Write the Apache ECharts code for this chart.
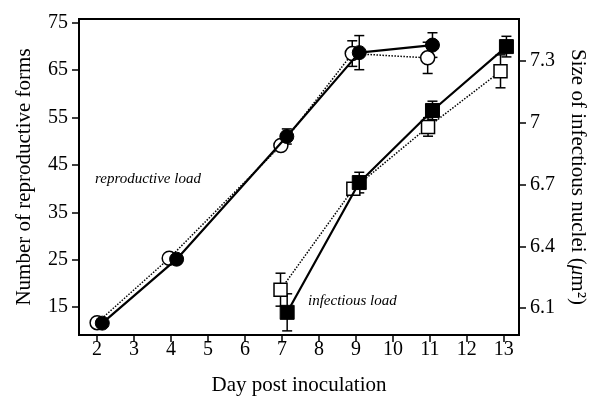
<!DOCTYPE html>
<html><head><meta charset="utf-8">
<script src="https://cdn.jsdelivr.net/npm/echarts@6/dist/echarts.min.js"></script>
<style>html,body{margin:0;padding:0;background:#fff}#c{width:600px;height:412px}</style>
</head><body><div id="c"></div>
<script>
// ---- data ----
var xTicks = [2,3,4,5,6,7,8,9,10,11,12,13];
var leftTicks = [15,25,35,45,55,65,75];
var rightTicks = [6.1,6.4,6.7,7,7.3];

// reproductive load (left axis): open circles (dotted), filled circles (solid)
var openCircDays  = [2.0, 3.95, 6.97, 8.9, 10.94];
var openCircVals  = [11.7, 25.3, 49.1, 68.5, 67.6];
var openCircErr   = [0, 0, 0, 2.7, 3.3];
var fillCircDays  = [2.14, 4.15, 7.13, 9.09, 11.07];
var fillCircVals  = [11.6, 25.1, 51.0, 68.7, 70.3];
var fillCircErr   = [0, 0, 1.6, 3.6, 2.6];

// infectious load (right axis): open squares (dotted), filled squares (solid)
var openSqDays = [6.96, 8.93, 10.95, 12.91];
var openSqVals = [6.19, 6.68, 6.98, 7.25];
var openSqErr  = [0.08, 0.02, 0.045, 0.08];
var fillSqDays = [7.14, 9.09, 11.07, 13.07];
var fillSqVals = [6.08, 6.71, 7.06, 7.37];
var fillSqErr  = [0.09, 0.05, 0.045, 0.05];

function pairs(xs, ys){ return xs.map(function(x,i){ return [x, ys[i]]; }); }
function errs(xs, ys, es){ return xs.map(function(x,i){ return [x, ys[i], ys[i]-es[i], ys[i]+es[i]]; }).filter(function(d,i){return es[i]>0;}); }

var FONT = '"Liberation Serif","DejaVu Serif",serif';

function errRender(params, api){
  var x = api.value(0), lo = api.value(2), hi = api.value(3);
  var t = api.coord([x, hi]), b = api.coord([x, lo]);
  var w = 5;
  var st = {stroke:'#000', lineWidth:1.5};
  return {type:'group', children:[
    {type:'line', shape:{x1:t[0],y1:t[1],x2:b[0],y2:b[1]}, style:st},
    {type:'line', shape:{x1:t[0]-w,y1:t[1],x2:t[0]+w,y2:t[1]}, style:st},
    {type:'line', shape:{x1:b[0]-w,y1:b[1],x2:b[0]+w,y2:b[1]}, style:st}
  ]};
}

function axis(extra, ticks, margin){
  var o = {
    axisLine:{show:true, lineStyle:{color:'#000', width:2}},
    axisTick:{show:true, length:7, lineStyle:{color:'#000', width:1.5}, customValues:ticks},
    splitLine:{show:false},
    axisLabel:{color:'#000', fontFamily:FONT, fontSize:20, margin:margin, customValues:ticks,
      formatter:function(v){ return String(v); }},
    nameTextStyle:{color:'#000', fontFamily:FONT, fontSize:21,
      rich:{i:{fontFamily:FONT, fontSize:21, fontStyle:'italic', color:'#000'},
            s:{fontFamily:FONT, fontSize:13, color:'#000', verticalAlign:'top', padding:[0,0,8,0]}}}
  };
  for (var k in extra) o[k] = extra[k];
  return o;
}

var chart = echarts.init(document.getElementById('c'));
var option = {
  animation:false,
  grid:{left:79, right:81, top:19, bottom:77, show:true, borderColor:'#000', borderWidth:2},
  xAxis: axis({type:'value', min:1.51, max:13.41,
    name:'Day post inoculation', nameLocation:'middle', nameGap:40}, xTicks, 5),
  yAxis: [
    axis({type:'value', position:'left', min:9.1, max:75.8,
      name:'Number of reproductive forms', nameLocation:'middle', nameRotate:90, nameGap:44}, leftTicks, 11),
    axis({type:'value', position:'right', min:5.97, max:7.504,
      name:'Size of infectious nuclei ({i|\u03bc}m\u00b2)', nameLocation:'middle', nameRotate:-90, nameGap:48}, rightTicks, 11)
  ],
  series: [
    {type:'custom', yAxisIndex:0, renderItem:errRender, data:errs(openCircDays, openCircVals, openCircErr), z:1},
    {type:'custom', yAxisIndex:0, renderItem:errRender, data:errs(fillCircDays, fillCircVals, fillCircErr), z:1},
    {type:'custom', yAxisIndex:1, renderItem:errRender, data:errs(openSqDays, openSqVals, openSqErr), z:1},
    {type:'custom', yAxisIndex:1, renderItem:errRender, data:errs(fillSqDays, fillSqVals, fillSqErr), z:1},
    {type:'line', yAxisIndex:0, data:pairs(openCircDays, openCircVals), symbol:'circle', symbolSize:14,
      lineStyle:{color:'#000', width:1.5, type:'dotted'}, itemStyle:{color:'#fff', borderColor:'#000', borderWidth:1.5}, z:3},
    {type:'line', yAxisIndex:1, data:pairs(openSqDays, openSqVals), symbol:'rect', symbolSize:13,
      lineStyle:{color:'#000', width:1.5, type:'dotted'}, itemStyle:{color:'#fff', borderColor:'#000', borderWidth:1.5}, z:3},
    {type:'line', yAxisIndex:0, data:pairs(fillCircDays, fillCircVals), symbol:'circle', symbolSize:14,
      lineStyle:{color:'#000', width:2.2}, itemStyle:{color:'#000', borderColor:'#000', borderWidth:1}, z:4},
    {type:'line', yAxisIndex:1, data:pairs(fillSqDays, fillSqVals), symbol:'rect', symbolSize:14,
      lineStyle:{color:'#000', width:2.2}, itemStyle:{color:'#000', borderColor:'#000', borderWidth:1}, z:4}
  ],
  graphic: [
    {type:'text', left:95, top:172, style:{text:'reproductive load', fontFamily:FONT, fontStyle:'italic', fontSize:15, fill:'#000'}},
    {type:'text', left:308, top:294, style:{text:'infectious load', fontFamily:FONT, fontStyle:'italic', fontSize:15, fill:'#000'}}
  ]
};
chart.setOption(option);
</script>
</body></html>
